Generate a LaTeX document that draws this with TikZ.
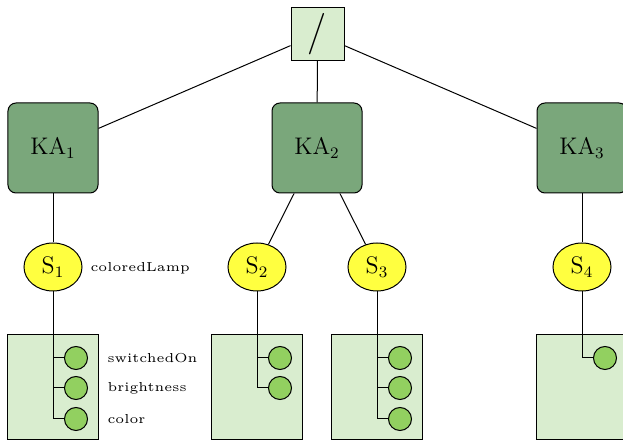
\documentclass[tikz,border=0pt]{standalone}
\usetikzlibrary{shapes.geometric}
\definecolor{kagreen}{RGB}{122,167,123}
\definecolor{boxgreen}{RGB}{217,237,207}
\definecolor{lampyellow}{RGB}{255,255,64}
\definecolor{dotgreen}{RGB}{146,208,96}
\begin{document}
\begin{tikzpicture}[x=0.5pt,y=-0.5pt,line width=0.5pt,
  rootbox/.style={draw,fill=boxgreen,minimum width=26.5pt,minimum height=26.5pt,inner sep=0pt,font=\huge},
  kabox/.style={draw,fill=kagreen,rounded corners=4pt,minimum width=45pt,minimum height=45pt,inner sep=0pt,font=\large},
  lamp/.style={draw,ellipse,fill=lampyellow,minimum width=29pt,minimum height=24pt,inner sep=0pt,font=\large},
  attrbox/.style={draw,fill=boxgreen,minimum width=45.5pt,minimum height=52.5pt,inner sep=0pt},
  attr/.style={draw,circle,fill=dotgreen,minimum size=11.5pt,inner sep=0pt},
  lbl/.style={anchor=west,inner sep=0pt}]
\useasboundingbox (0,0) rectangle (623,443);
\clip (0,0) rectangle (623,443);
% boxes
\node[attrbox] (b1) at (53,387.5) {};
\node[attrbox] (b2) at (257,387.5) {};
\node[attrbox] (b3) at (377,387.5) {};
\node[attrbox] (b4) at (582,387.5) {};
% top
\node[rootbox] (root) at (317.5,34) {/};
\node[kabox] (ka1) at (53,148) {KA$_1$};
\node[kabox] (ka2) at (317,148) {KA$_2$};
\node[kabox] (ka3) at (582,148) {KA$_3$};
\node[lamp] (s1) at (53,267) {S$_1$};
\node[lamp] (s2) at (257,267) {S$_2$};
\node[lamp] (s3) at (377,267) {S$_3$};
\node[lamp] (s4) at (582,267) {S$_4$};
\node[lbl] (lampname) at (90,268) {\scalebox{1.3}{\tiny coloredLamp}};
% attribute dots
\node[attr] (a11) at (76,358) {};
\node[attr] (a12) at (76,388) {};
\node[attr] (a13) at (76,419) {};
\node[attr] (a21) at (280,358) {};
\node[attr] (a22) at (280,388) {};
\node[attr] (a31) at (400,358) {};
\node[attr] (a32) at (400,388) {};
\node[attr] (a33) at (400,419) {};
\node[attr] (a41) at (605,358) {};
\node[lbl] (l1) at (107,358) {\scalebox{1.3}{\tiny switchedOn}};
\node[lbl] (l2) at (107,388) {\scalebox{1.3}{\tiny brightness}};
\node[lbl] (l3) at (107,419) {\scalebox{1.3}{\tiny color}};
% connectors
\draw (root) -- (ka1);
\draw (root) -- (ka2);
\draw (root) -- (ka3);
\draw (ka1) -- (s1);
\draw (ka2) -- (s2);
\draw (ka2) -- (s3);
\draw (ka3) -- (s4);
\draw (s1.south) |- (a11.west);
\draw (s1.south) |- (a12.west);
\draw (s1.south) |- (a13.west);
\draw (s2.south) |- (a21.west);
\draw (s2.south) |- (a22.west);
\draw (s3.south) |- (a31.west);
\draw (s3.south) |- (a32.west);
\draw (s3.south) |- (a33.west);
\draw (s4.south) |- (a41.west);
\end{tikzpicture}
\end{document}
